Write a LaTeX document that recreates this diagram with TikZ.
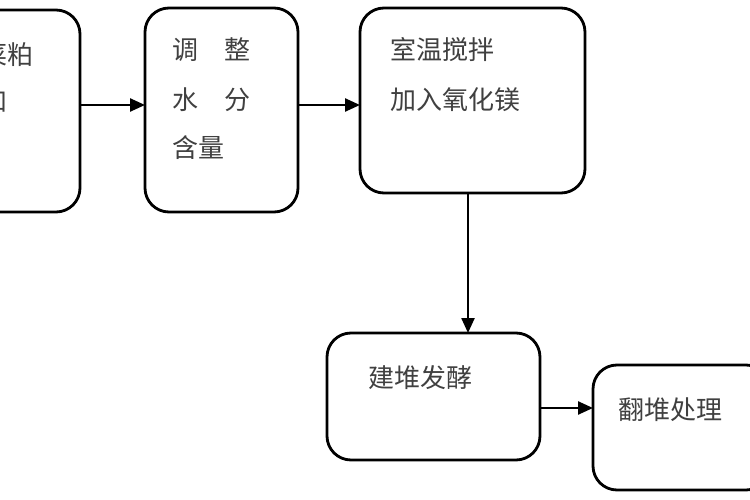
\documentclass[tikz,border=0pt]{standalone}
\usepackage{fontspec}
\setmainfont{Noto Sans CJK SC}
\usetikzlibrary{arrows.meta}
\begin{document}
\begin{tikzpicture}[x=1pt,y=-1pt,
  box/.style={draw,line width=2.8pt,rounded corners=24pt},
  lbl/.style={anchor=west,font=\fontsize{26}{26}\selectfont,text=black!75,inner sep=0},
  arr/.style={-{Triangle[length=15pt,width=13pt]},line width=2.4pt}]
\useasboundingbox (0,0) rectangle (750,500);
\clip (0,0) rectangle (750,500);
\fill[white] (0,0) rectangle (750,500);
\draw[box] (-80,10) rectangle (80,212);
\node[lbl] (t1) at (-45,55) {甜菜粕};
\node[lbl] (t1b) at (-45,102) {中和};
\draw[box] (145,8) rectangle (298,212);
\node[lbl] (t2a) at (172,50) {调\hspace{1em}整};
\node[lbl] (t2b) at (172,100) {水\hspace{1em}分};
\node[lbl] (t2c) at (172,148) {含量};
\draw[box] (360,8) rectangle (585,193);
\node[lbl] (t3a) at (390,50) {室温搅拌};
\node[lbl] (t3b) at (390,100) {加入氧化镁};
\draw[box] (327,333) rectangle (540,460);
\node[lbl] (t4) at (368,378) {建堆发酵};
\draw[box] (593,365) rectangle (770,490);
\node[lbl] (t5) at (618,410) {翻堆处理};
\coordinate (a1s) at (80,105); \coordinate (a1e) at (145,105);
\draw[arr] (a1s) -- (a1e);
\coordinate (a2s) at (298,105); \coordinate (a2e) at (360,105);
\draw[arr] (a2s) -- (a2e);
\coordinate (a3s) at (468,193); \coordinate (a3e) at (468,333);
\draw[arr] (a3s) -- (a3e);
\coordinate (a4s) at (540,408); \coordinate (a4e) at (593,408);
\draw[arr] (a4s) -- (a4e);
\end{tikzpicture}
\end{document}
